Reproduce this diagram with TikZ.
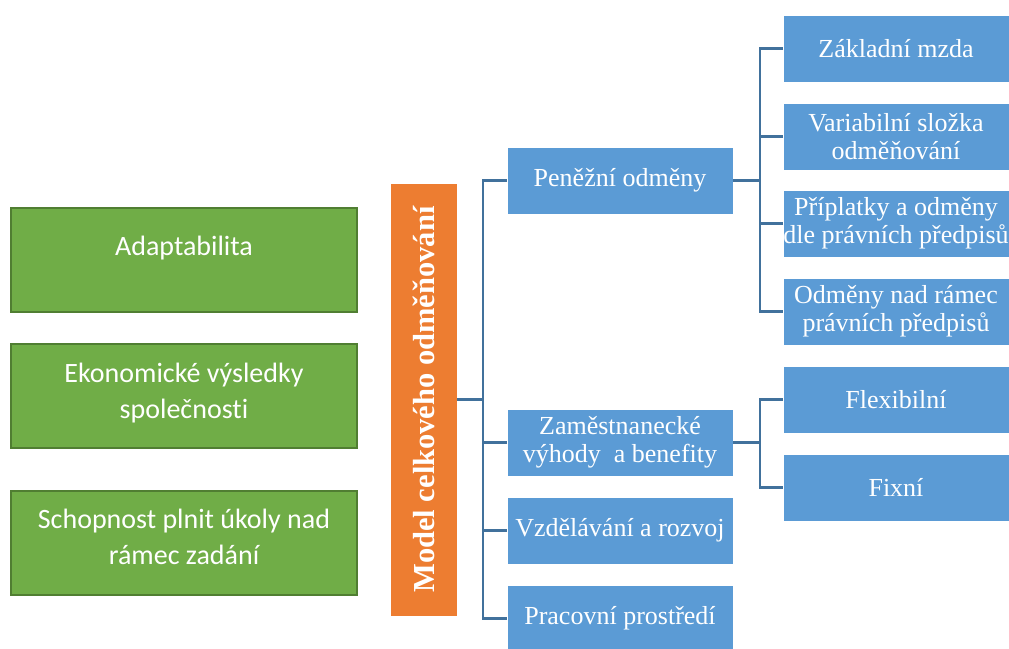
\documentclass[tikz,border=0pt]{standalone}
\usepackage{fontspec}
\setmainfont{Liberation Serif}
\newfontfamily\calibrifont[Ligatures=NoCommon]{Carlito}
\definecolor{boxblue}{HTML}{5B9BD5}
\definecolor{boxorange}{HTML}{ED7D31}
\definecolor{boxgreen}{HTML}{70AD47}
\definecolor{edgegreen}{HTML}{507E32}
\definecolor{connblue}{HTML}{41719C}
\begin{document}
\begin{tikzpicture}[x=1pt,y=-1pt,
  bluebox/.style={draw=white, line width=0.8pt, fill=boxblue, text=white,
    inner sep=0pt, outer sep=0pt, minimum width=226pt, minimum height=67pt,
    anchor=north west, align=center, font=\fontsize{26}{28}\selectfont},
  greenbox/.style={draw=edgegreen, line width=2pt, fill=boxgreen,
    inner sep=0pt, outer sep=0pt, minimum width=346pt, minimum height=104pt,
    anchor=north west},
  greentext/.style={text=white, align=center, inner sep=0pt,
    font=\calibrifont\fontsize{28}{36}\selectfont},
  modelbox/.style={draw=white, line width=0.8pt, fill=boxorange,
    inner sep=0pt, outer sep=0pt, minimum width=67pt, minimum height=433pt,
    anchor=north west},
  modeltext/.style={text=white, rotate=90, inner sep=0pt,
    font=\bfseries\fontsize{30.5}{36}\selectfont},
  conn/.style={draw=connblue, line width=2.8pt}]
\useasboundingbox (0,0) rectangle (1009,648);

% green factor boxes on the left
\node[greenbox] (ada) at (11,208) {};
\node[greentext] (adat) at (184,248) {Adaptabilita};
\node[greenbox] (eko) at (11,344) {};
\node[greentext] (ekot) at (184,393) {Ekonomické výsledky\\společnosti};
\node[greenbox] (sch) at (11,491) {};
\node[greentext] (scht) at (184,537) {Schopnost plnit úkoly nad\\rámec zadání};

% central orange title bar
\node[modelbox] (model) at (390,183) {};
\node[modeltext] (modelt) at (model.center) {Model celkového odměňování};

% second level
\node[bluebox] (pen) at (507,147) {Peněžní odměny};
\node[bluebox] (zam) at (507,409) {Zaměstnanecké\\výhody\ \ a benefity};
\node[bluebox] (vzd) at (507,497) {Vzdělávání a rozvoj};
\node[bluebox] (pra) at (507,585) {Pracovní prostředí};

% third level
\node[bluebox] (zak) at (783,15)  {Základní mzda};
\node[bluebox] (var) at (783,103) {Variabilní složka\\odměňování};
\node[bluebox] (pri) at (783,190) {Příplatky a odměny\\dle právních předpisů};
\node[bluebox] (odm) at (783,278) {Odměny nad rámec\\právních předpisů};
\node[bluebox] (fle) at (783,366) {Flexibilní};
\node[bluebox] (fix) at (783,454) {Fixní};

% connector trunks
\coordinate (hubA) at (483,399.5);
\coordinate (hubB) at (760,180.5);
\coordinate (hubC) at (760,442.5);

\draw[conn] (model.east) -- (hubA);
\draw[conn] (pen.west) -- (pen.west -| hubA) -- (pra.west -| hubA) -- (pra.west);
\draw[conn] (zam.west) -- (zam.west -| hubA);
\draw[conn] (vzd.west) -- (vzd.west -| hubA);

\draw[conn] (pen.east) -- (hubB);
\draw[conn] (zak.west) -- (zak.west -| hubB) -- (odm.west -| hubB) -- (odm.west);
\draw[conn] (var.west) -- (var.west -| hubB);
\draw[conn] (pri.west) -- (pri.west -| hubB);

\draw[conn] (zam.east) -- (hubC);
\draw[conn] (fle.west) -- (fle.west -| hubC) -- (fix.west -| hubC) -- (fix.west);
\end{tikzpicture}
\end{document}
